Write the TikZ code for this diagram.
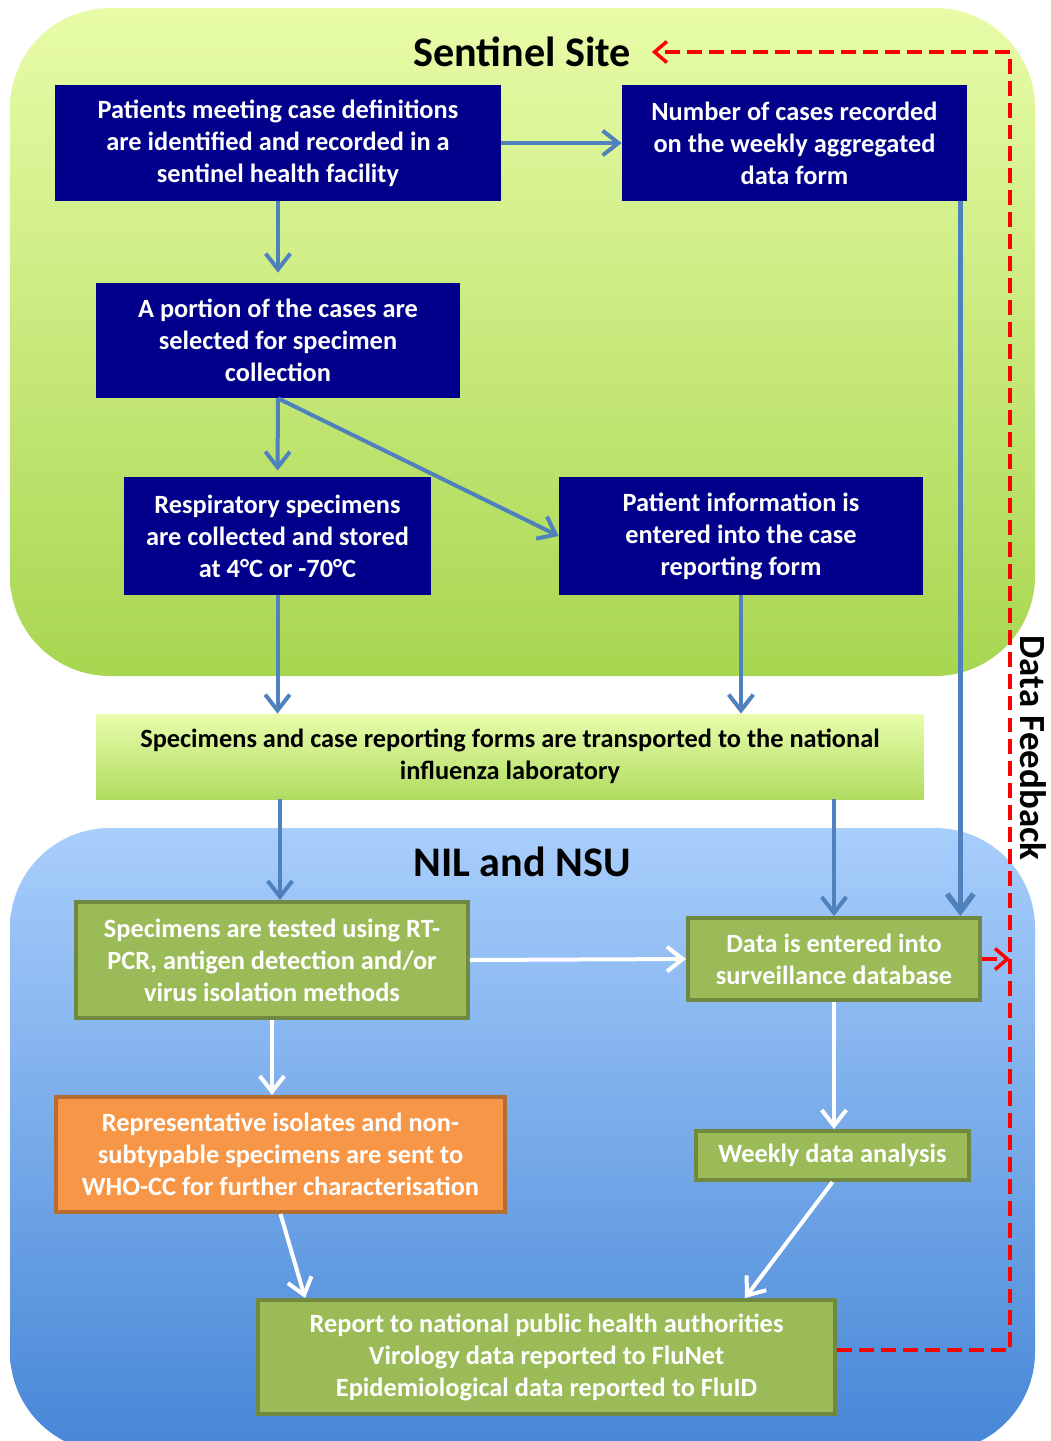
\documentclass[tikz,border=0pt]{standalone}
\usepackage{fontspec}
\setmainfont{Carlito}
\usepackage{tikz}
\usetikzlibrary{calc,positioning,arrows.meta}

\definecolor{boxnavy}{RGB}{2,0,138}
\definecolor{boxgreen}{RGB}{155,187,89}
\definecolor{boxgreenline}{RGB}{113,137,63}
\definecolor{boxorange}{RGB}{247,150,70}
\definecolor{boxorangeline}{RGB}{182,109,49}
\definecolor{flowblue}{RGB}{79,129,189}
\definecolor{sitetop}{RGB}{232,252,168}
\definecolor{sitebot}{RGB}{168,214,80}
\definecolor{niltop}{RGB}{168,206,252}
\definecolor{nilbot}{RGB}{70,134,214}
\definecolor{transtop}{RGB}{232,253,172}
\definecolor{transbot}{RGB}{176,220,96}

\tikzset{
	box/.style={shape=rectangle,align=center,inner sep=2pt,font=\bfseries\fontsize{15}{18.2}\selectfont},
	navybox/.style={box,fill=boxnavy,text=white},
	greenbox/.style={box,fill=boxgreen,draw=boxgreenline,line width=0.08cm,text=white},
	orangebox/.style={box,fill=boxorange,draw=boxorangeline,line width=0.08cm,text=white},
	transbox/.style={box,top color=transtop,bottom color=transbot,text=black},
	heading/.style={font=\bfseries\fontsize{24}{28}\selectfont},
	flow/.style={draw=flowblue,line width=0.08cm,-{Straight Barb[length=9pt,width=14pt]}},
	wflow/.style={draw=white,line width=0.08cm,-{Straight Barb[length=9pt,width=14pt]}},
	feedback/.style={draw=red,line width=0.07cm,dash pattern=on 8.5pt off 4pt,-{Straight Barb[length=7pt,width=12pt]}}
}

\begin{document}
\begin{tikzpicture}[x=0.02cm,y=-0.02cm]
		\useasboundingbox (0,0) rectangle (1051,1441);
		% the two regions
		\shade[top color=sitetop,bottom color=sitebot,rounded corners=2cm] (10,8) rectangle (1035,676);
		\shade[top color=niltop,bottom color=nilbot,rounded corners=2cm] (10,828) rectangle (1035,1452);
		\node(site) [heading] at (522,52) {Sentinel Site};
		\node(nil) [heading] at (522,862) {NIL and NSU};
		\node(fblabel) [font=\bfseries\fontsize{21}{25}\selectfont,rotate=-90] at (1033,748) {Data Feedback};
		\begin{scope}
			\node(p1) [navybox,minimum width=8.92cm,minimum height=2.32cm] at (278,143) {Patients meeting case definitions\\are identified and recorded in a\\sentinel health facility};
			\node(p2) [navybox,minimum width=6.9cm,minimum height=2.32cm] at (794.5,143) {Number of cases recorded\\on the weekly aggregated\\data form};
			\node(p3) [navybox,minimum width=7.28cm,minimum height=2.3cm] at (278,340.5) {A portion of the cases are\\selected for specimen\\collection};
			\node(p4) [navybox,minimum width=6.14cm,minimum height=2.36cm] at (277.5,536) {Respiratory specimens\\are collected and stored\\at 4°C or -70°C};
			\node(p5) [navybox,minimum width=7.28cm,minimum height=2.36cm] at (741,536) {Patient information is\\entered into the case\\reporting form};
			\node(trans) [transbox,minimum width=16.56cm,minimum height=1.7cm] at (510,756.5) {Specimens and case reporting forms are transported to the national\\influenza laboratory};
			\node(t1) [greenbox,minimum width=7.84cm,minimum height=2.32cm] at (272,960) {Specimens are tested using RT-\\PCR, antigen detection and/or\\virus isolation methods};
			\node(d1) [greenbox,minimum width=5.84cm,minimum height=1.64cm] at (834,959) {Data is entered into\\surveillance database};
			\node(r1) [orangebox,minimum width=8.98cm,minimum height=2.3cm] at (280.5,1154.5) {Representative isolates and non-\\subtypable specimens are sent to\\WHO-CC for further characterisation};
			\node(w1) [greenbox,minimum width=5.46cm,minimum height=0.98cm] at (832.5,1155.5) {Weekly data analysis};
			\node(rep) [greenbox,minimum width=11.54cm,minimum height=2.28cm] at (546.5,1357) {Report to national public health authorities\\Virology data reported to FluNet\\Epidemiological data reported to FluID};
			\coordinate(p2d) at ([xshift=-0.14cm]p2.south east);
			\coordinate(t1in) at ([xshift=0.16cm]t1.north);
			\coordinate(repl) at ([xshift=0.98cm]rep.north west);
			\coordinate(repr) at ([xshift=-1.84cm]rep.north east);
			\coordinate(repout) at ([yshift=0.14cm]rep.east);
			\coordinate(fbtop) at (1010,52);
			\path
				(p1.east) edge [flow] (p2.west)
				(p1.south) edge [flow,shorten >=0.2cm] (p3.north)
				(p3.south) edge [flow,shorten >=0.12cm] (p4.north)
				(p3.south) edge [flow] (p5.west)
				(p4.south) edge [flow] (p4.south |- trans.north)
				(p5.south) edge [flow] (p5.south |- trans.north)
				(t1in |- trans.south) edge [flow] (t1in)
				(d1.north |- trans.south) edge [flow] (d1.north)
				(p2d) edge [flow,line width=0.11cm,-{Straight Barb[length=10pt,width=15pt]}] (p2d |- d1.north);
			\path
				(t1.east) edge [wflow] (d1.west)
				(t1.south) edge [wflow] (t1.south |- r1.north)
				(d1.south) edge [wflow] (d1.south |- w1.north)
				(r1.south) edge [wflow] (repl)
				(w1.south) edge [wflow] (repr);
			\draw[feedback] (repout) -| (fbtop) -- ([xshift=0.3cm]site.east);
			\draw[feedback] (d1.east) -- (d1.east -| fbtop);
		\end{scope}
	\end{tikzpicture}
\end{document}
